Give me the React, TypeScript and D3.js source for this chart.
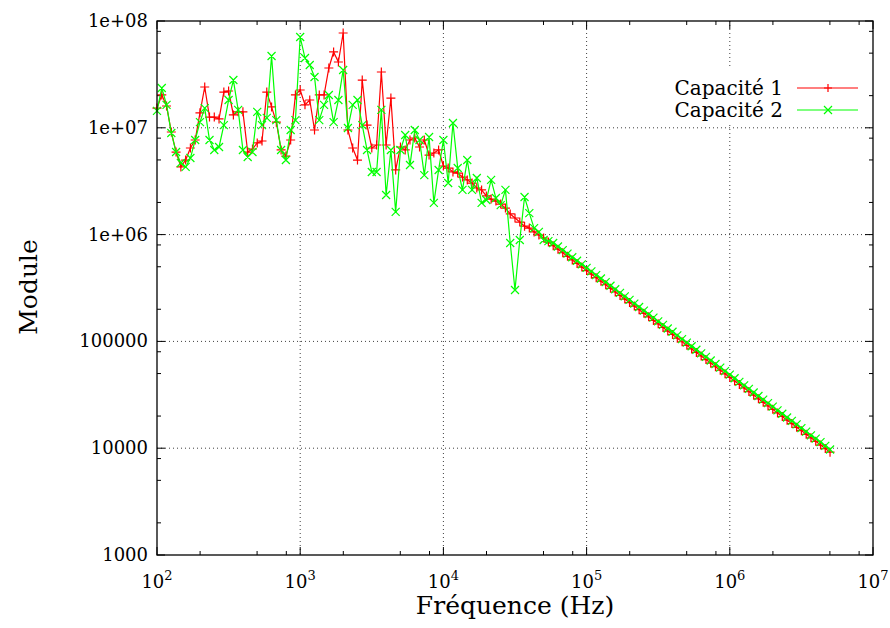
import React from "react";
import * as d3 from "d3";

const freqs = [
  100, 108, 116.6, 125.9, 135.9, 146.8, 158.5, 171.1, 184.8, 199.5, 215.4, 232.6, 251.2, 271.2, 292.9, 316.2, 341.5, 368.7, 398.1, 429.9, 464.2, 501.2, 541.2, 584.3, 631, 681.3, 735.6, 794.3, 857.7, 926.1,
  1000, 1080, 1166, 1259, 1359, 1468, 1585, 1711, 1848, 1995, 2154, 2326, 2512, 2712, 2929, 3162, 3415, 3687, 3981, 4299, 4642, 5012, 5412, 5843, 6310, 6813, 7356, 7943, 8577, 9261,
  1.0e4, 1.080e4, 1.166e4, 1.259e4, 1.359e4, 1.468e4, 1.585e4, 1.711e4, 1.848e4, 1.995e4, 2.154e4, 2.326e4, 2.512e4, 2.712e4, 2.929e4, 3.162e4, 3.415e4, 3.687e4, 3.981e4, 4.299e4, 4.642e4, 5.012e4, 5.412e4, 5.843e4, 6.310e4, 6.813e4, 7.356e4, 7.943e4, 8.577e4, 9.261e4,
  1.0e5, 1.080e5, 1.166e5, 1.259e5, 1.359e5, 1.468e5, 1.585e5, 1.711e5, 1.848e5, 1.995e5, 2.154e5, 2.326e5, 2.512e5, 2.712e5, 2.929e5, 3.162e5, 3.415e5, 3.687e5, 3.981e5, 4.299e5, 4.642e5, 5.012e5, 5.412e5, 5.843e5, 6.310e5, 6.813e5, 7.356e5, 7.943e5, 8.577e5, 9.261e5,
  1.0e6, 1.080e6, 1.166e6, 1.259e6, 1.359e6, 1.468e6, 1.585e6, 1.711e6, 1.848e6, 1.995e6, 2.154e6, 2.326e6, 2.512e6, 2.712e6, 2.929e6, 3.162e6, 3.415e6, 3.687e6, 3.981e6, 4.299e6, 4.642e6, 5.012e6,
];

const capacite1 = [
  1.53e7, 2.03e7, 1.60e7, 9.13e6, 5.93e6, 4.30e6, 4.99e6, 6.47e6, 7.69e6, 1.38e7, 2.41e7, 1.26e7, 1.26e7, 1.21e7, 2.16e7, 2.21e7, 1.32e7, 1.41e7, 1.41e7, 5.93e6, 6.33e6, 7.21e6, 7.52e6, 2.16e7, 1.57e7, 1.13e7, 6.20e6, 5.44e6, 7.69e6, 2.03e7,
  2.26e7, 1.64e7, 1.82e7, 9.54e6, 2.03e7, 2.03e7, 3.63e7, 5.13e7, 4.13e7, 7.72e7, 9.54e6, 6.47e6, 4.99e6, 2.80e7, 1.06e7, 6.47e6, 6.90e6, 3.33e7, 6.90e6, 1.90e7, 4.03e6, 6.61e6, 6.20e6, 7.69e6, 8.03e6, 6.61e6, 7.69e6, 5.56e6, 5.81e6, 6.20e6,
  4.39e6, 4.20e6, 3.86e6, 3.77e6, 3.46e6, 3.25e6, 3.04e6, 2.73e6, 2.62e6, 2.30e6, 2.15e6, 2.06e6, 1.93e6, 1.77e6, 1.56e6, 1.43e6, 1.31e6, 1.20e6, 1.15e6, 1.06e6, 9.91e5, 9.29e5, 8.52e5, 7.88e5, 7.30e5, 6.76e5, 6.26e5, 5.79e5, 5.37e5, 4.97e5,
  4.60e5, 4.26e5, 3.95e5, 3.66e5, 3.39e5, 3.14e5, 2.90e5, 2.69e5, 2.49e5, 2.31e5, 2.14e5, 1.98e5, 1.83e5, 1.70e5, 1.57e5, 1.46e5, 1.35e5, 1.25e5, 1.16e5, 1.07e5, 9.92e4, 9.18e4, 8.50e4, 7.88e4, 7.30e4, 6.76e4, 6.26e4, 5.79e4, 5.37e4, 4.97e4,
  4.60e4, 4.26e4, 3.95e4, 3.66e4, 3.39e4, 3.14e4, 2.90e4, 2.69e4, 2.49e4, 2.31e4, 2.14e4, 1.98e4, 1.83e4, 1.70e4, 1.57e4, 1.46e4, 1.35e4, 1.25e4, 1.16e4, 1.07e4, 9.92e3, 9.18e3,
];

const capacite2 = [
  1.44e7, 2.36e7, 1.64e7, 8.94e6, 5.93e6, 4.68e6, 4.30e6, 5.21e6, 7.69e6, 1.13e7, 1.53e7, 7.69e6, 6.20e6, 6.61e6, 1.06e7, 1.82e7, 2.80e7, 1.47e7, 6.20e6, 5.33e6, 5.93e6, 1.41e7, 1.06e7, 1.24e7, 4.70e7, 1.18e7, 6.20e6, 4.99e6, 9.54e6, 1.18e7,
  7.08e7, 4.50e7, 3.87e7, 2.99e7, 1.18e7, 1.64e7, 2.03e7, 1.13e7, 1.82e7, 3.48e7, 9.96e6, 1.64e7, 1.82e7, 1.06e7, 6.20e6, 3.86e6, 3.86e6, 1.47e7, 2.35e6, 6.20e6, 1.63e6, 6.20e6, 8.56e6, 4.48e6, 9.54e6, 7.69e6, 3.61e6, 8.20e6, 1.98e6, 4.03e6,
  7.69e6, 3.04e6, 1.11e7, 4.20e6, 2.62e6, 4.99e6, 2.62e6, 3.39e6, 1.98e6, 2.11e6, 3.25e6, 2.20e6, 1.89e6, 2.62e6, 8.34e5, 3.03e5, 8.90e5, 2.25e6, 1.59e6, 1.15e6, 1.06e6, 8.90e5, 8.70e5, 8.35e5, 7.73e5, 7.16e5, 6.63e5, 6.14e5, 5.69e5, 5.27e5,
  4.88e5, 4.52e5, 4.18e5, 3.88e5, 3.59e5, 3.32e5, 3.08e5, 2.85e5, 2.64e5, 2.45e5, 2.26e5, 2.10e5, 1.94e5, 1.80e5, 1.67e5, 1.54e5, 1.43e5, 1.32e5, 1.23e5, 1.14e5, 1.05e5, 9.73e4, 9.01e4, 8.35e4, 7.73e4, 7.16e4, 6.63e4, 6.14e4, 5.69e4, 5.27e4,
  4.88e4, 4.52e4, 4.18e4, 3.88e4, 3.59e4, 3.32e4, 3.08e4, 2.85e4, 2.64e4, 2.45e4, 2.26e4, 2.10e4, 1.94e4, 1.80e4, 1.67e4, 1.54e4, 1.43e4, 1.32e4, 1.23e4, 1.14e4, 1.05e4, 9.73e3,
];

const seriesNames = ["Capacité 1", "Capacité 2"];
const seriesColors = ["#ff0000", "#00ff00"];
const xMajorTicks = [1e2, 1e3, 1e4, 1e5, 1e6, 1e7];
const xTickExponents = ["2", "3", "4", "5", "6", "7"];
const yMajorTicks = [1e3, 1e4, 1e5, 1e6, 1e7, 1e8];
const yTickLabels = ["1000", "10000", "100000", "1e+06", "1e+07", "1e+08"];
const minorMantissas = [2, 5, 8];
const xTitle = "Fréquence (Hz)";
const yTitle = "Module";

const FONT = "'DejaVu Serif', serif";

export default function App() {
  const W = 890;
  const H = 628;
  const L = 157, R = 873, T = 21, B = 555;
  const x = d3.scaleLog().domain([1e2, 1e7]).range([L, R]);
  const y = d3.scaleLog().domain([1e3, 1e8]).range([B, T]);

  const xMinor: number[] = [];
  xMajorTicks.slice(0, -1).forEach((d) => minorMantissas.forEach((m) => xMinor.push(d * m)));
  const yMinor: number[] = [];
  yMajorTicks.slice(0, -1).forEach((d) => minorMantissas.forEach((m) => yMinor.push(d * m)));

  const lineGen = d3
    .line<number>()
    .x((_, i) => x(freqs[i]))
    .y((d) => y(d));

  const plusPath = (vals: number[]) =>
    vals
      .map((v, i) => {
        const cx = x(freqs[i]);
        const cy = y(v);
        return `M${cx - 4.5},${cy}h9M${cx},${cy - 4.5}v9`;
      })
      .join("");
  const crossPath = (vals: number[]) =>
    vals
      .map((v, i) => {
        const cx = x(freqs[i]);
        const cy = y(v);
        return `M${cx - 4},${cy - 4}l8,8M${cx - 4},${cy + 4}l8,-8`;
      })
      .join("");

  const major = 8;
  const minor = 4;
  const legendY = [88, 110];

  return (
    <svg
      width={W}
      height={H}
      style={{ position: "absolute", left: 0, top: 0, background: "#fff" }}
      fontFamily={FONT}
    >
      <rect x={0} y={0} width={W} height={H} fill="#fff" />
      {/* grid */}
      <g stroke="#000" strokeWidth={1} strokeDasharray="1,3" opacity={0.75}>
        {xMajorTicks.slice(1, -1).map((d) => (
          <line key={"gx" + d} x1={x(d)} x2={x(d)} y1={T} y2={B} />
        ))}
        {yMajorTicks.slice(1, -1).map((d) => (
          <line key={"gy" + d} x1={L} x2={R} y1={y(d)} y2={y(d)} />
        ))}
      </g>
      {/* legend background */}
      <rect x={664} y={67} width={206} height={55} fill="#fff" />
      {/* ticks */}
      <g stroke="#000" strokeWidth={1}>
        {xMajorTicks.map((d) => (
          <g key={"tx" + d}>
            <line x1={x(d)} x2={x(d)} y1={B} y2={B - major} />
            <line x1={x(d)} x2={x(d)} y1={T} y2={T + major} />
          </g>
        ))}
        {xMinor.map((d) => (
          <g key={"mx" + d}>
            <line x1={x(d)} x2={x(d)} y1={B} y2={B - minor} />
            <line x1={x(d)} x2={x(d)} y1={T} y2={T + minor} />
          </g>
        ))}
        {yMajorTicks.map((d) => (
          <g key={"ty" + d}>
            <line x1={L} x2={L + major} y1={y(d)} y2={y(d)} />
            <line x1={R} x2={R - major} y1={y(d)} y2={y(d)} />
          </g>
        ))}
        {yMinor.map((d) => (
          <g key={"my" + d}>
            <line x1={L} x2={L + minor} y1={y(d)} y2={y(d)} />
            <line x1={R} x2={R - minor} y1={y(d)} y2={y(d)} />
          </g>
        ))}
      </g>
      {/* data */}
      <g fill="none" strokeWidth={1.2}>
        <path d={lineGen(capacite1) || ""} stroke={seriesColors[0]} />
        <path d={plusPath(capacite1)} stroke={seriesColors[0]} />
        <path d={lineGen(capacite2) || ""} stroke={seriesColors[1]} />
        <path d={crossPath(capacite2)} stroke={seriesColors[1]} />
      </g>
      {/* border */}
      <rect x={L} y={T} width={R - L} height={B - T} fill="none" stroke="#000" strokeWidth={1.3} />
      {/* tick labels */}
      <g fontSize={18} fill="#000">
        {yMajorTicks.map((d, i) => (
          <text key={"ly" + d} x={148} y={y(d) + 6} textAnchor="end">
            {yTickLabels[i]}
          </text>
        ))}
        {xMajorTicks.map((d, i) => (
          <text key={"lx" + d} x={x(d)} y={588} textAnchor="middle">
            10
            <tspan dy={-8} fontSize={13}>
              {xTickExponents[i]}
            </tspan>
          </text>
        ))}
      </g>
      {/* axis titles */}
      <text x={(L + R) / 2} y={614} textAnchor="middle" fontSize={25}>
        {xTitle}
      </text>
      <text transform="translate(37,287) rotate(-90)" textAnchor="middle" fontSize={25}>
        {yTitle}
      </text>
      {/* legend */}
      {seriesNames.map((name, i) => (
        <g key={name}>
          <text x={783} y={legendY[i] + 7} textAnchor="end" fontSize={20}>
            {name}
          </text>
          <line x1={797} x2={858} y1={legendY[i]} y2={legendY[i]} stroke={seriesColors[i]} strokeWidth={1.2} />
          <path
            d={
              i === 0
                ? `M${828 - 4},${legendY[i]}h8M828,${legendY[i] - 4}v8`
                : `M${828 - 4},${legendY[i] - 4}l8,8M${828 - 4},${legendY[i] + 4}l8,-8`
            }
            stroke={seriesColors[i]}
            fill="none"
            strokeWidth={1.2}
          />
        </g>
      ))}
    </svg>
  );
}
